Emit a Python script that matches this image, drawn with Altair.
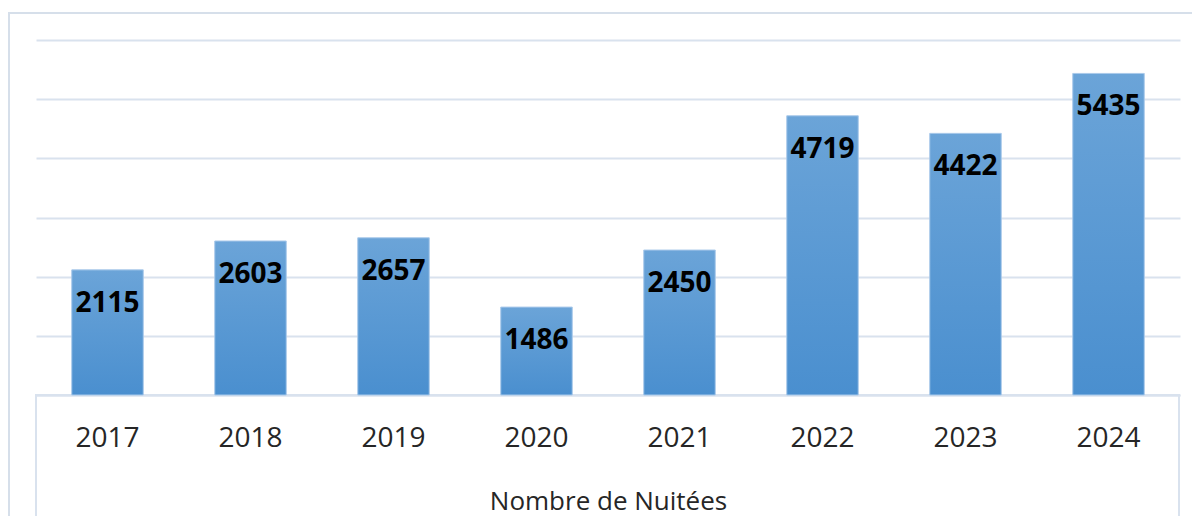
import altair as alt
import pandas as pd

years = ["2017", "2018", "2019", "2020", "2021", "2022", "2023", "2024"]
nuitees = [2115, 2603, 2657, 1486, 2450, 4719, 4422, 5435]
y_ticks = [0, 1000, 2000, 3000, 4000, 5000, 6000]
x_title = "Nombre de Nuitées"

df = pd.DataFrame({"annee": years, "nuitees": nuitees})
frame_df = pd.DataFrame({"k": [0]})

FONT = "Open Sans"
GRID = "#d9e2ee"

x_enc = alt.X(
    "annee:N",
    sort=years,
    scale=alt.Scale(paddingInner=0.5, paddingOuter=0.25),
    axis=alt.Axis(
        title=x_title,
        labelAngle=0,
        labelFont=FONT,
        labelFontSize=28,
        labelColor="#262626",
        labelBaseline="middle",
        labelPadding=43,
        ticks=False,
        tickSize=0,
        domain=True,
        domainColor=GRID,
        domainWidth=2,
        titleFont=FONT,
        titleFontSize=26,
        titleFontWeight="normal",
        titleColor="#262626",
        titleBaseline="middle",
        titleY=106,
    ),
)
y_enc = alt.Y(
    "nuitees:Q",
    scale=alt.Scale(domain=[0, 6000], nice=False),
    axis=alt.Axis(
        values=y_ticks,
        labels=False,
        ticks=False,
        domain=False,
        grid=True,
        gridColor=GRID,
        gridWidth=2,
        title=None,
    ),
)

bars = alt.Chart(df).mark_bar(
    color=alt.Gradient(
        gradient="linear",
        stops=[
            alt.GradientStop(color="#6ba4d8", offset=0),
            alt.GradientStop(color="#4a8fcf", offset=1),
        ],
        x1=0, x2=0, y1=0, y2=1,
    ),
    stroke="#a9c9ea",
    strokeWidth=1,
).encode(x=x_enc, y=y_enc)

labels = alt.Chart(df).mark_text(
    font=FONT,
    fontSize=28,
    fontWeight="bold",
    color="#000000",
    baseline="middle",
    dy=34,
).encode(
    x=alt.X("annee:N", sort=years),
    y=alt.Y("nuitees:Q"),
    text=alt.Text("nuitees:Q", format="d"),
)

outer = alt.Chart(frame_df).mark_rect(
    fill=None, stroke="#d6dfea", strokeWidth=2
).encode(
    x=alt.value(-27), x2=alt.value(1200),
    y=alt.value(-27), y2=alt.value(600),
)

axis_box = alt.Chart(frame_df).mark_rect(
    fill=None, stroke=GRID, strokeWidth=2
).encode(
    x=alt.value(0), x2=alt.value(1143),
    y=alt.value(355), y2=alt.value(600),
)

chart = alt.layer(outer, axis_box, bars, labels).properties(
    width=1144,
    height=355,
    padding={"left": 28, "top": 32, "right": 12, "bottom": 121},
    autosize=alt.AutoSizeParams(type="none"),
).configure(background="white").configure_view(stroke=None)

chart.save("out.html", embed_options={"renderer": "svg", "actions": False})
